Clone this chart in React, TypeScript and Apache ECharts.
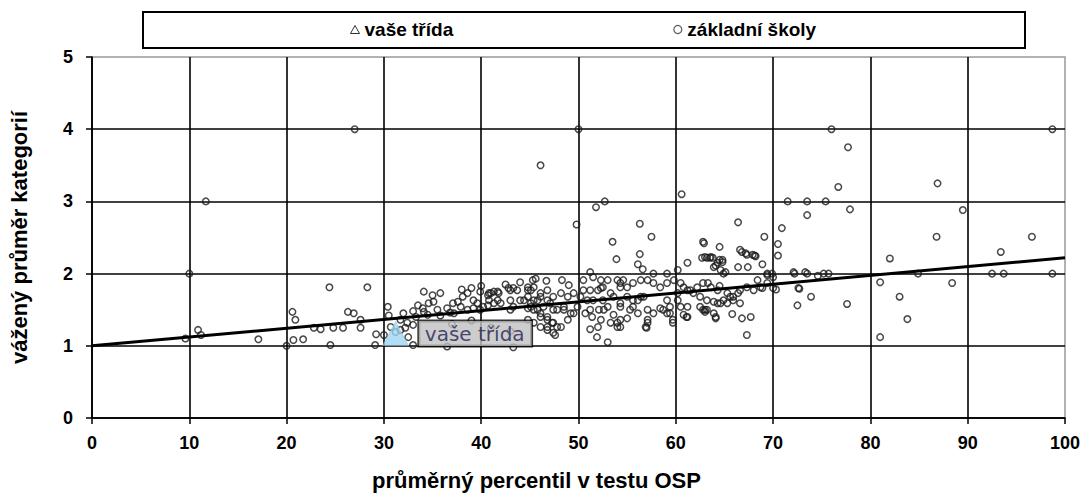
import React, { useEffect, useRef } from "react";
import * as echarts from "echarts";

// ---- data ----
const xTicks = [0, 10, 20, 30, 40, 50, 60, 70, 80, 90, 100];
const yTicks = [0, 1, 2, 3, 4, 5];

const classPoint: [number, number][] = [[31.2, 1.17]];
const classLabel = "vaše třída";
const schoolsLabel = "základní školy";

const trendStart = 1.0;
const trendEnd = 2.22;

const schoolPoints: [number, number][] = [
  [10.0, 2.0], [11.7, 3.0], [27.0, 4.0], [50.0, 4.0], [46.1, 3.5], [49.8, 2.68],
  [76.0, 4.0], [98.7, 4.0], [77.7, 3.75], [76.7, 3.2], [86.9, 3.25], [71.5, 3.0], [73.5, 3.0], [75.4, 3.0],
  [77.9, 2.89], [73.5, 2.81], [89.5, 2.88], [70.9, 2.63], [66.4, 2.71], [69.1, 2.51], [70.5, 2.41], [70.5, 2.25],
  [86.8, 2.51], [96.6, 2.51], [93.4, 2.3], [82.0, 2.21], [92.5, 2.0], [93.7, 2.0], [98.7, 2.0], [84.9, 2.0],
  [81.0, 1.88], [88.4, 1.87], [83.0, 1.68], [83.8, 1.37], [81.0, 1.12], [77.6, 1.58], [72.5, 1.56], [73.9, 1.68],
  [72.7, 1.79], [72.2, 2.0], [73.5, 2.0], [74.6, 1.97], [75.2, 2.0], [75.7, 2.0], [67.3, 1.15], [67.7, 1.4],
  [66.8, 1.38], [65.8, 1.44], [70.3, 1.78], [68.4, 1.91], [68.9, 2.13], [68.1, 2.25], [66.8, 2.3], [67.2, 2.28],
  [66.4, 2.09], [67.4, 2.09], [64.5, 2.37], [64.8, 2.19], [64.1, 2.11], [62.9, 2.42], [63.6, 2.23], [63.0, 2.23],
  [64.9, 2.0], [69.4, 2.0], [69.9, 2.0], [63.3, 1.87], [64.5, 1.83], [63.2, 1.63], [63.9, 1.61], [64.9, 1.63],
  [65.9, 1.68], [66.4, 1.73], [63.0, 1.5], [63.9, 1.45], [64.1, 1.38], [65.3, 1.59], [64.6, 1.59],
  [60.6, 3.1], [51.8, 2.92], [52.7, 3.0], [56.3, 2.69], [57.5, 2.51], [53.5, 2.44], [53.9, 2.2], [56.3, 2.27],
  [56.1, 2.13], [56.6, 2.06], [62.8, 2.44], [62.7, 2.22], [63.8, 2.22], [66.6, 2.33], [68.2, 2.24], [64.5, 2.19],
  [63.9, 2.09], [61.2, 2.15], [60.2, 2.05], [51.2, 2.02], [51.5, 1.95], [59.1, 2.0], [57.7, 2.0], [69.4, 1.98],
  [70.0, 1.95], [51.2, 1.23], [52.0, 1.26], [51.9, 1.12], [53.0, 1.05], [57.0, 1.25], [59.7, 1.32], [61.1, 1.4],
  [64.1, 1.4], [63.0, 1.47], [47.4, 1.18], [46.8, 1.22], [46.1, 1.26], [45.4, 1.32], [44.8, 1.36], [45.6, 1.93],
  [46.7, 1.9], [48.3, 1.91], [49.0, 1.84],
  [24.4, 1.81], [28.3, 1.81], [20.6, 1.47], [20.9, 1.36], [26.3, 1.47], [26.9, 1.45], [27.6, 1.36], [30.4, 1.54],
  [20.7, 1.08], [21.7, 1.09], [24.5, 1.01], [22.8, 1.25], [23.5, 1.23], [24.8, 1.25], [25.8, 1.25], [27.6, 1.25],
  [29.2, 1.16], [29.1, 1.01], [33.5, 1.56], [34.1, 1.75], [35.0, 1.7], [35.8, 1.73], [35.1, 1.61], [34.1, 1.47],
  [33.0, 1.01], [36.5, 0.99], [30.7, 1.26], [31.2, 1.19], [31.7, 1.22], [32.2, 1.25], [33.0, 1.29], [32.5, 1.12],
  [30.0, 1.15], [37.1, 1.59], [37.6, 1.61], [38.1, 1.68], [38.6, 1.73], [39.2, 1.63], [39.9, 1.75], [40.7, 1.7],
  [40.8, 1.73], [41.3, 1.75], [41.8, 1.73], [43.0, 1.77], [43.7, 1.77], [44.8, 1.81], [45.3, 1.91], [39.6, 1.59],
  [40.7, 1.56], [42.0, 1.59], [43.3, 1.54], [44.8, 1.52], [45.4, 1.5], [43.3, 0.98], [20.0, 1.0], [10.9, 1.22],
  [11.2, 1.15], [9.6, 1.1], [17.1, 1.09], [34.6, 1.59], [35.5, 1.5], [36.5, 1.52], [37.2, 1.45], [38.6, 1.5],
  [39.2, 1.52], [37.9, 1.54], [39.9, 1.5], [31.7, 1.36], [32.4, 1.32],
  [63.2, 2.22], [63.5, 2.22], [64.3, 2.15], [64.8, 2.16], [64.6, 2.05], [65.1, 2.02], [67.3, 2.26], [67.9, 2.26],
  [68.9, 1.8], [72.1, 2.02], [73.3, 2.02], [72.6, 1.8], [70.0, 1.8], [61.2, 1.4], [62.8, 1.5], [64.3, 1.59],
  [65.6, 1.68],
  [51.2, 1.77], [52.3, 1.8], [51.5, 1.63], [52.5, 1.63], [51.2, 1.5], [52.1, 1.5], [53.0, 1.54], [53.6, 1.68],
  [54.3, 1.81], [54.6, 1.91], [54.3, 1.59], [53.6, 1.43], [54.0, 1.32], [54.3, 1.26], [55.0, 1.38], [55.6, 1.54],
  [56.1, 1.63], [56.7, 1.68], [57.1, 1.5], [57.1, 1.32], [57.7, 1.45], [58.4, 1.52], [59.1, 1.63], [59.4, 1.45],
  [59.7, 1.36], [60.2, 1.73], [60.5, 1.87], [61.2, 1.77], [61.8, 1.73], [62.5, 1.68], [60.5, 1.54], [60.8, 1.43],
  [45.1, 1.77], [43.3, 1.8], [42.8, 1.8], [41.7, 1.75], [41.0, 1.73], [40.8, 1.63], [41.7, 1.63], [43.0, 1.63],
  [44.0, 1.63], [44.8, 1.68], [45.4, 1.63], [46.1, 1.68], [46.8, 1.63], [47.4, 1.68], [48.2, 1.73], [48.9, 1.68],
  [49.5, 1.73], [45.1, 1.54], [45.8, 1.5], [46.1, 1.45], [46.8, 1.4], [47.3, 1.32], [47.8, 1.26], [46.8, 1.26],
  [48.9, 1.36], [49.5, 1.45], [48.5, 1.5], [47.4, 1.5], [47.6, 1.15], [43.0, 1.5], [40.2, 1.54], [41.3, 1.59],
  [60.8, 1.81], [61.5, 1.77], [62.2, 1.81], [62.8, 1.87], [63.6, 1.81], [64.3, 1.77], [65.3, 1.73], [66.6, 1.77],
  [67.3, 1.81], [68.0, 1.77], [68.7, 1.81], [69.4, 1.87], [62.5, 1.54], [63.2, 1.5], [65.9, 1.63], [66.6, 1.59],
  [61.2, 1.54], [60.2, 1.63], [59.4, 1.54], [58.7, 1.5],
  [44.8, 1.77], [45.4, 1.81], [46.1, 1.73], [46.8, 1.77], [44.4, 1.63], [45.1, 1.59], [45.8, 1.63], [46.4, 1.54],
  [47.1, 1.59], [47.8, 1.5], [48.5, 1.54], [49.2, 1.45], [46.1, 1.4], [46.8, 1.36], [47.4, 1.32], [48.2, 1.26],
  [50.5, 1.91], [52.3, 1.91], [53.0, 1.91], [54.0, 1.91], [54.3, 1.87], [55.0, 1.81], [55.6, 1.87], [56.4, 1.91],
  [57.1, 1.91], [57.7, 1.87], [58.4, 1.81], [59.1, 1.87], [59.8, 1.91], [52.5, 1.81], [53.3, 1.73], [52.0, 1.77],
  [55.0, 1.68], [55.6, 1.63], [56.4, 1.68], [54.3, 1.54], [55.3, 1.5], [56.1, 1.45], [54.3, 1.36], [57.1, 1.36],
  [59.1, 1.45], [56.9, 1.26], [50.5, 1.77], [50.2, 1.68], [50.9, 1.63], [49.9, 1.54], [50.7, 1.45], [51.4, 1.4],
  [52.6, 1.5], [52.3, 1.36], [53.3, 1.32], [54.0, 1.26],
  [30.5, 1.42], [32.0, 1.45], [33.0, 1.48], [34.0, 1.52], [38.0, 1.78], [39.0, 1.8], [40.0, 1.83], [42.5, 1.85],
  [44.0, 1.88], [37.0, 1.3], [39.0, 1.35], [41.0, 1.25], [43.0, 1.2], [33.3, 1.4], [34.5, 1.43], [35.8, 1.42],
  [36.8, 1.46],
];

const xName = "průměrný percentil v testu OSP";
const yName = "vážený průměr kategorií";

const FONT = "'Liberation Sans', Arial, sans-serif";

export default function App() {
  const ref = useRef<HTMLDivElement>(null);

  useEffect(() => {
    if (!ref.current) return;
    const chart = echarts.init(ref.current, undefined, { renderer: "svg" });
    chart.setOption({
      animation: false,
      backgroundColor: "#ffffff",
      textStyle: { fontFamily: FONT },
      grid: {
        left: 91,
        right: 23,
        top: 57,
        bottom: 79,
        show: true,
        borderColor: "#999999",
        borderWidth: 1.5,
        backgroundColor: "transparent",
      },
      graphic: [
        {
          type: "rect",
          shape: { x: 143, y: 12, width: 882, height: 36 },
          style: { fill: "#fff", stroke: "#000", lineWidth: 2 },
          z: -1,
        },
      ],
      legend: {
        left: 350,
        top: 20,
        padding: 0,
        itemGap: 220,
        itemWidth: 9,
        itemHeight: 8,
        textStyle: { fontFamily: FONT, fontSize: 19, fontWeight: "bold", color: "#000" },
        data: [
          {
            name: classLabel,
            icon: "triangle",
            itemStyle: { color: "#fff", borderColor: "#000", borderWidth: 1 },
          },
          {
            name: schoolsLabel,
            icon: "circle",
            itemStyle: { color: "#fff", borderColor: "#333", borderWidth: 1.2 },
          },
        ],
      },
      xAxis: {
        type: "value",
        min: xTicks[0],
        max: xTicks[xTicks.length - 1],
        interval: 10,
        name: xName,
        nameLocation: "middle",
        nameGap: 51,
        nameTextStyle: {
          fontFamily: FONT,
          fontSize: 22,
          fontWeight: "bold",
          color: "#000",
          padding: [0, 84, 0, 0],
        },
        axisLine: { show: true, onZero: false, lineStyle: { color: "#000", width: 1.5 } },
        axisTick: { show: true, inside: false, length: 6, lineStyle: { color: "#000", width: 1.5 } },
        axisLabel: { margin: 16, fontFamily: FONT, fontSize: 18, fontWeight: "bold", color: "#000" },
        splitLine: { show: true, showMaxLine: false, lineStyle: { color: "#000", width: 1.6 } },
      },
      yAxis: {
        type: "value",
        min: yTicks[0],
        max: yTicks[yTicks.length - 1],
        interval: 1,
        name: yName,
        nameLocation: "middle",
        nameGap: 62,
        nameTextStyle: { fontFamily: FONT, fontSize: 22, fontWeight: "bold", color: "#000" },
        axisLine: { show: true, onZero: false, lineStyle: { color: "#000", width: 1.5 } },
        axisTick: { show: true, inside: false, length: 6, lineStyle: { color: "#000", width: 1.5 } },
        axisLabel: { margin: 19, fontFamily: FONT, fontSize: 18, fontWeight: "bold", color: "#000" },
        splitLine: { show: true, showMaxLine: false, lineStyle: { color: "#000", width: 1.6 } },
      },
      series: [
        {
          name: schoolsLabel,
          type: "scatter",
          data: schoolPoints,
          symbol: "circle",
          symbolSize: 6.5,
          itemStyle: { color: "rgba(255,255,255,0)", borderColor: "#1a1a1a", borderWidth: 1.5 },
          z: 2,
        },
        {
          name: "trend",
          type: "line",
          data: [
            [xTicks[0], trendStart],
            [xTicks[xTicks.length - 1], trendEnd],
          ],
          symbol: "none",
          lineStyle: { color: "#000", width: 3 },
          z: 3,
        },
        {
          name: classLabel,
          type: "scatter",
          data: classPoint,
          symbol: "triangle",
          symbolSize: [26, 24],
          itemStyle: { color: "#9dd6f2", borderColor: "#7fb8d8", borderWidth: 0.5 },
          z: 10,
          label: {
            show: true,
            position: "right",
            distance: 10,
            formatter: classLabel,
            fontFamily: "'DejaVu Sans', sans-serif",
            fontSize: 20,
            color: "#1f2250",
            backgroundColor: "#c0c0c0",
            borderColor: "#000",
            borderWidth: 1.5,
            padding: [3, 7, 2, 6],
          },
        },
      ],
    });
    return () => chart.dispose();
  }, []);

  return (
    <div
      ref={ref}
      style={{ position: "absolute", left: 0, top: 0, width: 1088, height: 497, background: "#fff" }}
    />
  );
}
